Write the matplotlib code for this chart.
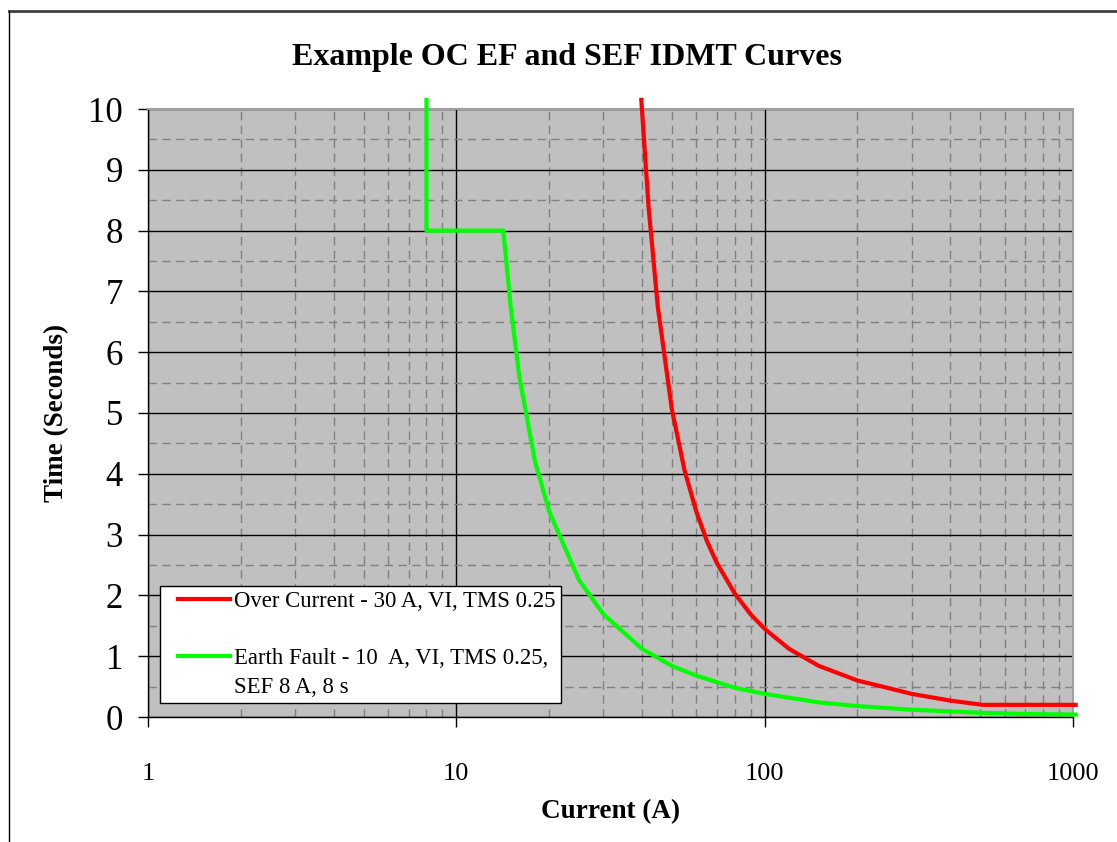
import numpy as np
import matplotlib
matplotlib.use('Agg')
import matplotlib.pyplot as plt
from matplotlib.lines import Line2D
from matplotlib.legend_handler import HandlerLine2D
from matplotlib.ticker import FixedLocator, NullFormatter

plt.rcParams['font.family'] = ['Liberation Serif', 'DejaVu Serif']

###############################################################################
# Data
oc_current = [39.8, 42, 45, 50, 55, 60, 65, 70, 80, 90, 100, 120, 150, 200,
              250, 300, 400, 510, 700, 1020]
oc_time = [10.15, 8.4, 6.75, 5.06, 4.05, 3.38, 2.89, 2.53, 2.03, 1.69, 1.45,
           1.12, 0.84, 0.60, 0.48, 0.38, 0.27, 0.20, 0.20, 0.20]

ef_current = [8, 8, 14.2, 15, 16, 18, 20, 25, 30, 40, 50, 60, 80, 100, 150,
              200, 300, 500, 700, 1020]
ef_time = [10.15, 8.0, 8.0, 6.75, 5.6, 4.2, 3.38, 2.25, 1.69, 1.12, 0.84,
           0.68, 0.48, 0.38, 0.24, 0.18, 0.12, 0.07, 0.05, 0.04]

labels = ['Over Current - 30 A, VI, TMS 0.25',
          'Earth Fault - 10  A, VI, TMS 0.25,',
          'SEF 8 A, 8 s']
colors = ['#FF0000', '#00FF00']

x_ticks = [1, 10, 100, 1000]
x_ticklabels = ['1', '10', '100', '1000']
y_ticks = list(range(0, 11))

###############################################################################
# Plotting
fig = plt.figure(figsize=(11.17, 8.42), dpi=100)
ax = fig.add_axes([148/1117, 1 - 717/842, 925/1117, 608/842])
ax.set_facecolor('#C0C0C0')

ax.plot(oc_current, oc_time, color=colors[0], lw=3, clip_on=False, zorder=5)
ax.plot(ef_current, ef_time, color=colors[1], lw=3, clip_on=False, zorder=5)

ax.set_xscale('log')
ax.set_xlim(1, 1000)
ax.set_ylim(0, 10)
ax.set_xticks(x_ticks)
ax.set_xticklabels(x_ticklabels)
minor_x = [m * d for d in (1, 10, 100) for m in range(2, 10)]
ax.xaxis.set_minor_locator(FixedLocator(minor_x))
ax.xaxis.set_minor_formatter(NullFormatter())
ax.set_yticks(y_ticks)
ax.yaxis.set_minor_locator(FixedLocator(np.arange(0.5, 10, 1.0)))

ax.grid(which='major', color='black', lw=1.0, ls='-')
ax.grid(which='minor', color='#808080', lw=1.0, ls=(0, (6, 4)))
ax.set_axisbelow(True)

ax.tick_params(which='major', direction='out', length=7, width=1, color='black')
ax.tick_params(which='minor', length=0)
ax.tick_params(axis='x', labelsize=19, pad=26)
ax.tick_params(axis='y', labelsize=25, pad=11)

for s in ('top', 'right'):
    ax.spines[s].set_color('#A0A0A0')
    ax.spines[s].set_linewidth(1.5)
for s in ('left', 'bottom'):
    ax.spines[s].set_color('black')
    ax.spines[s].set_linewidth(1)

ax.set_xlabel('Current (A)', fontsize=19.5, fontweight='bold')
ax.xaxis.set_label_coords(0.5, -(799 - 717) / 608)
ax.set_ylabel('Time (Seconds)', fontsize=19.5, fontweight='bold')
ax.yaxis.set_label_coords(-(148 - 69) / 925, 0.5)

fig.text(567/1117, 1 - 58/842, 'Example OC EF and SEF IDMT Curves',
         fontsize=23, fontweight='bold', ha='center', va='center')

# legend: blank rows keep the spacing of the original
handles = [Line2D([], [], color=colors[0], lw=3),
           Line2D([], [], color='none'),
           Line2D([], [], color=colors[1], lw=3),
           Line2D([], [], color='none')]
leg_labels = [labels[0], ' ', labels[1], labels[2]]
fs = 16.4
leg = ax.legend(handles, leg_labels, loc='lower left',
                bbox_to_anchor=((160 - 148) / 925, (717 - 703) / 608),
                fontsize=fs, fancybox=False, framealpha=1, edgecolor='black',
                handlelength=2.85, handletextpad=0.2, labelspacing=0.34,
                borderpad=0.22, borderaxespad=0,
                handler_map={Line2D: HandlerLine2D(xpad=0.55)})
leg.get_frame().set_linewidth(1)
leg.set_zorder(10)

# outer chart border
fig.add_artist(Line2D([9/1117, 1], [1 - 11/842, 1 - 11/842],
                      color='#404040', lw=2, transform=fig.transFigure))
fig.add_artist(Line2D([9/1117, 9/1117], [0, 1 - 11/842],
                      color='black', lw=1, transform=fig.transFigure))

fig.savefig('out.png', dpi=100)
